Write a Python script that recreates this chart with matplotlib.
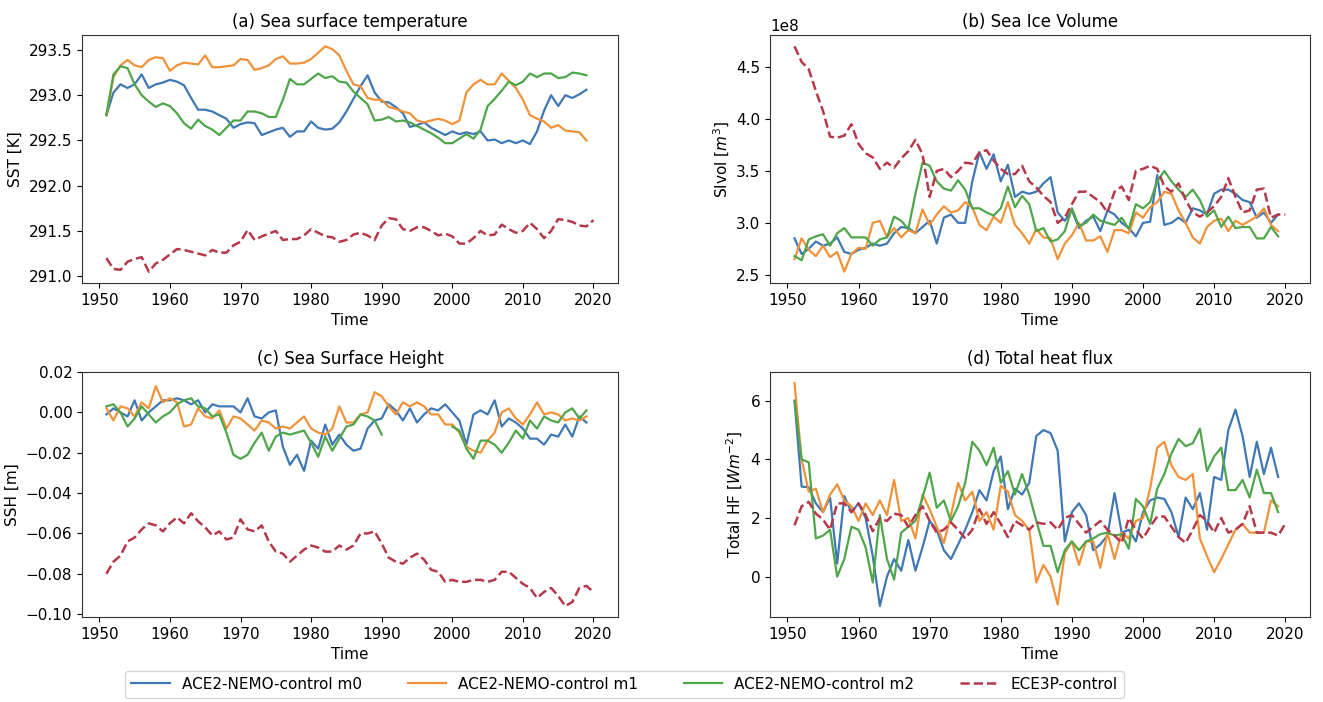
import numpy as np
import matplotlib
matplotlib.use("Agg")
import matplotlib.pyplot as plt

# ---------------------------------------------------------------- data
years_ace = np.arange(1951, 2020)   # ACE2-NEMO members
years_ece = np.arange(1951, 2021)   # ECE3P control

labels = ["ACE2-NEMO-control m0", "ACE2-NEMO-control m1",
          "ACE2-NEMO-control m2", "ECE3P-control"]

sst_m0 = [292.78, 293.03, 293.12, 293.08, 293.12, 293.23, 293.08, 293.12, 293.14, 293.17,
          293.15, 293.11, 292.97, 292.84, 292.84, 292.82, 292.78, 292.74, 292.64, 292.68,
          292.70, 292.69, 292.56, 292.59, 292.62, 292.64, 292.54, 292.60, 292.60, 292.71,
          292.64, 292.62, 292.63, 292.70, 292.82, 292.96, 293.10, 293.22, 293.03, 292.93,
          292.92, 292.87, 292.80, 292.65, 292.67, 292.70, 292.64, 292.60, 292.56, 292.60,
          292.57, 292.59, 292.57, 292.60, 292.50, 292.51, 292.47, 292.50, 292.47, 292.50,
          292.46, 292.60, 292.83, 293.00, 292.88, 293.00, 292.97, 293.01, 293.06]
sst_m1 = [292.78, 293.20, 293.33, 293.39, 293.33, 293.31, 293.39, 293.42, 293.41, 293.27,
          293.33, 293.36, 293.35, 293.34, 293.44, 293.31, 293.31, 293.32, 293.33, 293.40,
          293.39, 293.28, 293.30, 293.33, 293.40, 293.43, 293.35, 293.35, 293.36, 293.40,
          293.47, 293.54, 293.51, 293.44, 293.27, 293.12, 293.10, 292.97, 292.95, 292.95,
          292.87, 292.85, 292.82, 292.80, 292.72, 292.70, 292.72, 292.74, 292.72, 292.68,
          292.72, 293.03, 293.12, 293.17, 293.12, 293.12, 293.24, 293.16, 293.08, 292.95,
          292.78, 292.74, 292.71, 292.64, 292.67, 292.61, 292.60, 292.59, 292.50]
sst_m2 = [292.78, 293.23, 293.32, 293.30, 293.12, 293.00, 292.93, 292.87, 292.91, 292.88,
          292.80, 292.69, 292.63, 292.73, 292.66, 292.62, 292.56, 292.64, 292.72, 292.72,
          292.82, 292.82, 292.80, 292.76, 292.76, 292.95, 293.18, 293.12, 293.12, 293.18,
          293.24, 293.19, 293.21, 293.15, 293.14, 293.04, 292.97, 292.90, 292.72, 292.73,
          292.76, 292.71, 292.72, 292.70, 292.66, 292.62, 292.58, 292.53, 292.47, 292.47,
          292.52, 292.57, 292.52, 292.62, 292.88, 292.96, 293.05, 293.15, 293.11, 293.15,
          293.24, 293.20, 293.24, 293.24, 293.19, 293.20, 293.25, 293.24, 293.22]
sst_ece = [291.20, 291.08, 291.07, 291.16, 291.19, 291.21, 291.05, 291.14, 291.18, 291.24,
           291.30, 291.29, 291.27, 291.25, 291.23, 291.29, 291.26, 291.26, 291.34, 291.38,
           291.51, 291.40, 291.44, 291.47, 291.50, 291.40, 291.41, 291.41, 291.45, 291.52,
           291.48, 291.44, 291.43, 291.38, 291.40, 291.46, 291.48, 291.45, 291.40, 291.56,
           291.64, 291.63, 291.52, 291.50, 291.54, 291.54, 291.50, 291.45, 291.47, 291.44,
           291.36, 291.36, 291.42, 291.50, 291.45, 291.46, 291.57, 291.52, 291.48, 291.50,
           291.59, 291.52, 291.42, 291.50, 291.63, 291.62, 291.60, 291.56, 291.55, 291.62]

# sea ice volume in units of 1e8 m^3
sivol_m0 = [2.85, 2.70, 2.75, 2.82, 2.78, 2.80, 2.86, 2.72, 2.70, 2.74,
            2.76, 2.80, 2.78, 2.80, 2.90, 2.96, 2.95, 2.90, 2.96, 3.02,
            2.80, 3.05, 3.08, 3.00, 3.00, 3.40, 3.68, 3.52, 3.66, 3.40,
            3.56, 3.25, 3.30, 3.28, 3.30, 3.38, 3.44, 3.10, 3.02, 3.12,
            2.95, 3.02, 3.06, 2.92, 3.12, 3.08, 3.00, 2.95, 2.87, 3.00,
            3.01, 3.46, 2.98, 3.00, 3.05, 3.00, 3.14, 3.12, 3.08, 3.28,
            3.32, 3.32, 3.28, 3.22, 3.20, 3.05, 3.10, 3.00, 3.08]
sivol_m1 = [2.65, 2.85, 2.74, 2.68, 2.78, 2.67, 2.72, 2.53, 2.70, 2.76,
            2.75, 3.00, 3.02, 2.86, 2.95, 2.86, 2.93, 2.90, 3.13, 2.98,
            3.08, 3.16, 3.10, 3.12, 3.20, 3.15, 2.98, 2.93, 3.06, 3.00,
            3.20, 2.98, 2.90, 2.80, 2.94, 2.86, 2.85, 2.65, 2.80, 2.88,
            3.00, 2.83, 2.83, 2.87, 2.72, 2.93, 2.93, 2.90, 3.10, 3.05,
            3.15, 3.20, 3.30, 3.28, 3.12, 3.00, 2.86, 2.80, 2.96, 3.02,
            3.04, 2.92, 3.02, 2.98, 3.02, 3.06, 3.14, 2.98, 2.92]
sivol_m2 = [2.68, 2.64, 2.84, 2.87, 2.89, 2.78, 2.90, 2.95, 2.86, 2.86,
            2.86, 2.78, 2.84, 2.86, 3.06, 3.02, 2.94, 3.28, 3.58, 3.55,
            3.40, 3.33, 3.31, 3.41, 3.32, 3.14, 3.14, 3.10, 3.07, 3.14,
            3.35, 3.15, 3.26, 3.18, 2.92, 2.95, 2.82, 2.84, 2.92, 3.14,
            2.97, 3.00, 3.08, 3.02, 3.00, 2.98, 3.05, 2.94, 3.18, 3.14,
            3.20, 3.40, 3.50, 3.40, 3.32, 3.25, 3.32, 3.22, 3.06, 3.12,
            2.96, 3.06, 2.95, 2.96, 2.96, 2.85, 2.85, 2.96, 2.87]
sivol_ece = [4.70, 4.55, 4.48, 4.27, 4.08, 3.83, 3.82, 3.84, 3.95, 3.76,
             3.67, 3.63, 3.52, 3.58, 3.53, 3.62, 3.69, 3.80, 3.66, 3.25,
             3.50, 3.52, 3.44, 3.50, 3.58, 3.57, 3.68, 3.70, 3.60, 3.52,
             3.47, 3.47, 3.55, 3.40, 3.34, 3.26, 3.20, 3.00, 3.05, 3.18,
             3.30, 3.30, 3.25, 3.20, 3.10, 3.30, 3.35, 3.22, 3.50, 3.52,
             3.55, 3.52, 3.35, 3.30, 3.38, 3.22, 3.10, 3.06, 3.10, 3.16,
             3.25, 3.43, 3.25, 3.10, 3.12, 3.32, 3.33, 3.05, 3.08, 3.08]

nan = np.nan
ssh_m0 = [-0.001, 0.002, 0.000, -0.002, 0.006, -0.004, 0.000, 0.003, 0.006, 0.006,
          0.007, 0.006, 0.004, 0.006, 0.000, 0.004, 0.003, 0.003, 0.003, 0.000,
          0.007, -0.002, -0.003, 0.000, 0.001, -0.017, -0.026, -0.021, -0.029, -0.014,
          -0.018, -0.006, -0.016, -0.011, -0.016, -0.019, -0.018, -0.008, -0.004, -0.003,
          0.004, 0.001, -0.004, 0.002, -0.005, -0.001, 0.002, 0.001, 0.004, 0.000,
          -0.004, -0.016, -0.001, 0.001, -0.001, 0.006, -0.007, -0.003, -0.005, -0.008,
          -0.013, -0.013, -0.016, -0.011, -0.012, -0.006, -0.012, -0.002, -0.005]
ssh_m1 = [0.002, -0.004, 0.003, 0.002, -0.002, 0.005, 0.002, 0.013, 0.005, 0.007,
          0.005, -0.007, -0.006, 0.002, -0.002, -0.003, 0.001, -0.008, -0.002, -0.003,
          -0.006, -0.009, -0.004, -0.005, -0.008, -0.007, -0.008, -0.005, -0.002, -0.008,
          -0.010, -0.011, -0.008, 0.003, -0.005, -0.005, -0.001, 0.000, 0.010, 0.008,
          0.003, -0.001, 0.005, 0.003, 0.005, 0.003, -0.001, -0.001, -0.006, -0.006,
          -0.010, -0.017, -0.019, -0.020, -0.014, -0.010, 0.000, 0.002, -0.003, -0.006,
          -0.001, 0.005, -0.001, 0.000, -0.001, -0.004, -0.003, -0.004, -0.002]
ssh_m2 = [0.003, 0.004, 0.000, -0.007, -0.003, 0.003, -0.001, -0.005, -0.002, 0.000,
          0.004, 0.006, 0.007, 0.003, 0.002, -0.002, -0.001, -0.010, -0.021, -0.023,
          -0.021, -0.015, -0.010, -0.019, -0.012, -0.010, -0.011, -0.010, -0.009, -0.015,
          -0.022, -0.012, -0.019, -0.013, -0.007, -0.006, -0.001, -0.002, -0.004, -0.011,
          nan, nan, nan, nan, nan, nan, nan, nan, nan, -0.007,
          -0.009, -0.018, -0.023, -0.014, -0.014, -0.016, -0.020, -0.015, -0.009, -0.013,
          -0.004, -0.008, -0.002, -0.004, -0.005, 0.000, 0.002, -0.003, 0.001]
ssh_ece = [-0.080, -0.074, -0.071, -0.064, -0.062, -0.058, -0.055, -0.056, -0.059, -0.055,
           -0.052, -0.055, -0.050, -0.054, -0.057, -0.061, -0.059, -0.063, -0.062, -0.053,
           -0.058, -0.059, -0.056, -0.064, -0.069, -0.070, -0.074, -0.071, -0.068, -0.066,
           -0.067, -0.069, -0.069, -0.066, -0.068, -0.066, -0.060, -0.060, -0.059, -0.065,
           -0.072, -0.074, -0.075, -0.072, -0.070, -0.073, -0.078, -0.079, -0.084, -0.083,
           -0.084, -0.084, -0.083, -0.083, -0.084, -0.083, -0.079, -0.079, -0.082, -0.085,
           -0.087, -0.092, -0.089, -0.087, -0.091, -0.096, -0.094, -0.087, -0.086, -0.089]

hf_m0 = [6.00, 3.07, 3.05, 2.50, 2.20, 2.70, 0.45, 2.75, 2.20, 2.50,
         2.00, 0.70, -1.00, 0.00, 0.60, 0.20, 1.25, 0.20, 1.00, 1.90,
         1.60, 0.90, 0.60, 1.10, 1.60, 2.20, 2.95, 2.60, 3.60, 4.10,
         2.30, 3.00, 2.80, 3.20, 4.80, 5.00, 4.90, 4.30, 1.20, 2.20,
         2.50, 2.10, 0.90, 1.10, 1.40, 2.85, 1.50, 1.60, 1.20, 2.20,
         2.60, 2.70, 2.65, 2.20, 1.35, 2.70, 2.30, 2.85, 1.60, 3.40,
         3.30, 5.00, 5.70, 4.80, 3.40, 4.60, 3.50, 4.40, 3.40]
hf_m1 = [6.60, 4.00, 2.90, 3.00, 2.20, 2.80, 3.15, 2.60, 2.40, 1.90,
         2.50, 2.10, 2.60, 2.10, 3.30, 1.90, 2.00, 1.30, 2.80, 2.30,
         1.70, 1.15, 2.10, 3.20, 2.60, 2.90, 1.90, 2.20, 1.60, 3.10,
         2.90, 2.10, 1.90, 1.60, -0.20, 0.40, 0.00, -0.95, 0.80, 1.20,
         0.40, 1.20, 1.20, 0.30, 1.50, 0.60, 1.50, 1.30, 1.90, 2.00,
         3.00, 4.40, 4.60, 3.80, 3.40, 3.30, 3.50, 1.30, 0.70, 0.15,
         0.60, 1.10, 1.60, 1.80, 1.50, 1.50, 1.50, 2.60, 2.40]
hf_m2 = [6.00, 4.00, 3.90, 1.30, 1.40, 1.60, 0.00, 0.60, 1.70, 1.60,
         1.00, -0.20, 2.10, 0.60, -0.10, 1.50, 1.70, 1.90, 2.70, 3.55,
         2.35, 2.60, 1.90, 2.40, 3.20, 4.60, 4.30, 3.80, 4.40, 3.20,
         3.60, 2.80, 3.50, 2.80, 1.90, 1.05, 1.05, 0.15, 0.90, 1.20,
         0.90, 1.20, 1.30, 1.45, 1.50, 1.40, 1.45, 0.95, 2.65, 2.40,
         1.80, 3.00, 3.50, 4.20, 4.70, 4.45, 4.55, 5.05, 3.60, 4.10,
         4.40, 2.95, 2.95, 3.30, 2.70, 3.65, 2.85, 2.85, 2.20]
hf_ece = [1.75, 2.40, 2.55, 2.15, 1.95, 1.60, 2.50, 2.50, 2.20, 2.50,
          2.10, 1.55, 2.00, 1.90, 2.15, 2.10, 1.70, 2.10, 2.40, 1.90,
          1.50, 1.60, 1.85, 1.60, 1.30, 1.60, 2.30, 1.80, 2.20, 1.80,
          1.35, 1.90, 1.75, 1.60, 1.85, 1.80, 1.85, 1.60, 2.00, 2.10,
          1.80, 1.50, 1.70, 1.90, 1.60, 1.40, 1.15, 2.00, 1.60, 1.30,
          1.70, 2.05, 2.05, 1.70, 1.35, 1.15, 1.60, 2.10, 1.90, 1.50,
          2.00, 1.50, 1.60, 1.80, 2.40, 1.50, 1.50, 1.50, 1.40, 1.80]

# ---------------------------------------------------------------- style
plt.rcParams["font.family"] = ["DejaVu Sans"]
plt.rcParams["font.size"] = 11
colors = ["#3f78b5", "#f0923a", "#4fa64a", "#b5394a"]

fig = plt.figure(figsize=(13.23, 7.02), dpi=100)
axa = fig.add_axes([0.062, 0.597, 0.405, 0.353])
axb = fig.add_axes([0.582, 0.597, 0.408, 0.353])
axc = fig.add_axes([0.062, 0.121, 0.405, 0.349])
axd = fig.add_axes([0.582, 0.121, 0.408, 0.349])

panels = [
    (axa, [sst_m0, sst_m1, sst_m2], sst_ece, "(a) Sea surface temperature", "SST [K]", 1.0),
    (axb, [sivol_m0, sivol_m1, sivol_m2], sivol_ece, "(b) Sea Ice Volume", r"SIvol [$m^3$]", 1e8),
    (axc, [ssh_m0, ssh_m1, ssh_m2], ssh_ece, "(c) Sea Surface Height", "SSH [m]", 1.0),
    (axd, [hf_m0, hf_m1, hf_m2], hf_ece, "(d) Total heat flux", r"Total HF [$Wm^{-2}$]", 1.0),
]

handles = []
for ax, members, ece, title, ylabel, scale in panels:
    hs = []
    for vals, c, lab in zip(members, colors[:3], labels[:3]):
        h, = ax.plot(years_ace, np.asarray(vals, dtype=float) * scale,
                     color=c, lw=1.6, label=lab)
        hs.append(h)
    h, = ax.plot(years_ece, np.asarray(ece, dtype=float) * scale,
                 color=colors[3], lw=1.8, ls="--", label=labels[3])
    hs.append(h)
    handles = hs
    ax.set_title(title, fontsize=12)
    ax.set_ylabel(ylabel)
    ax.set_xlabel("Time")
    ax.set_xticks(np.arange(1950, 2021, 10))
    for s in ax.spines.values():
        s.set_color("#333333")

axa.set_yticks([291.0, 291.5, 292.0, 292.5, 293.0, 293.5])
axb.set_yticks([2.5e8, 3.0e8, 3.5e8, 4.0e8, 4.5e8])
axb.set_ylabel(r"SIvol [$m^3$]", labelpad=3)
axc.set_yticks([-0.10, -0.08, -0.06, -0.04, -0.02, 0.00, 0.02])
axd.set_yticks([0, 2, 4, 6])

fig.legend(handles, labels, loc="lower center", ncol=4,
           bbox_to_anchor=(0.472, -0.005), frameon=True,
           handlelength=2.5, columnspacing=3.0, fontsize=11)

fig.savefig("out.png", dpi=100)
